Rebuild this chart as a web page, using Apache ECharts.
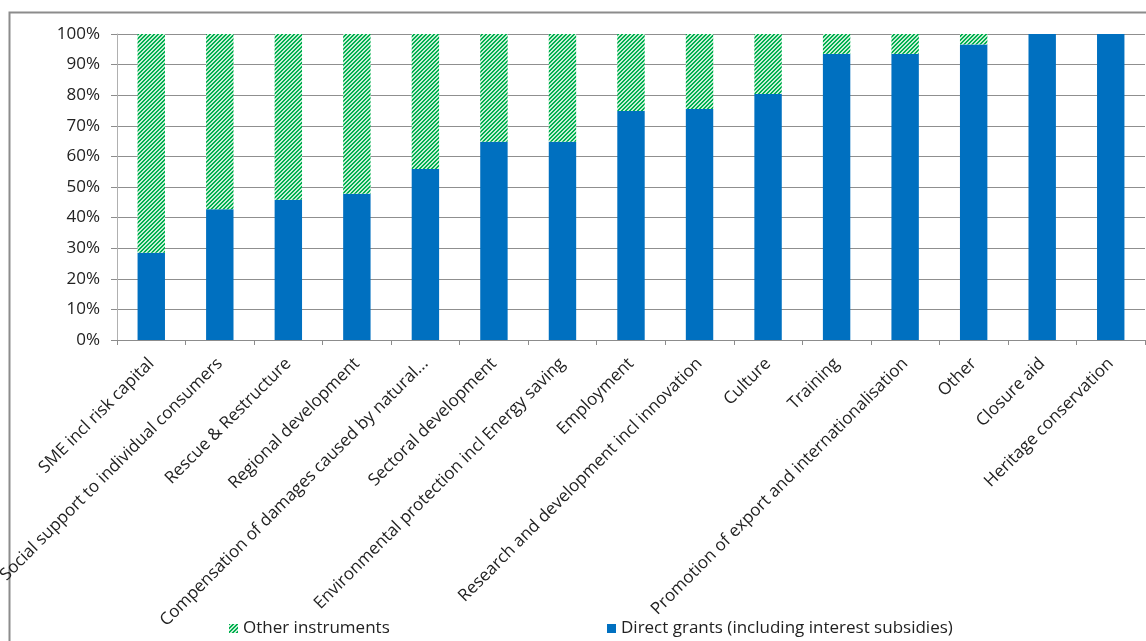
<!DOCTYPE html>
<html><head><meta charset="utf-8">
<script src="https://cdn.jsdelivr.net/npm/echarts@6/dist/echarts.min.js"></script>
<style>html,body{margin:0;padding:0;background:#fff}#c{width:1146px;height:641px}</style>
</head><body><div id="c"></div>
<script>
const categories = ["SME incl risk capital","Social support to individual consumers","Rescue & Restructure","Regional development","Compensation of damages caused by natural...","Sectoral development","Environmental protection incl Energy saving","Employment","Research and development incl innovation","Culture","Training","Promotion of export and internationalisation","Other","Closure aid","Heritage conservation"];
const directGrants = [28.5, 42.7, 45.8, 47.8, 55.9, 64.8, 64.8, 74.8, 75.5, 80.4, 93.5, 93.5, 96.6, 100, 100];
const otherInstruments = [71.5, 57.3, 54.2, 52.2, 44.1, 35.2, 35.2, 25.2, 24.5, 19.6, 6.5, 6.5, 3.4, 0, 0];
const yTicks = [0,10,20,30,40,50,60,70,80,90,100];

// hatch pattern
const pc = document.createElement('canvas');
pc.width = 4; pc.height = 4;
const g = pc.getContext('2d');
g.fillStyle = '#c8eed4'; g.fillRect(0,0,4,4);
g.fillStyle = '#00b050';
for (let i = 0; i < 4; i++) { g.fillRect((3 - i + 4) % 4, i, 1, 1); g.fillRect((4 - i + 4) % 4, i, 1, 1); }
const hatch = {image: pc, repeat: 'repeat'};

const font = 'Open Sans';
const chart = echarts.init(document.getElementById('c'), null, {renderer: 'canvas'});
chart.setOption({
  animation: false,
  textStyle: {fontFamily: font},
  graphic: [{type: 'rect', shape: {x: 9.5, y: 12.5, width: 1200, height: 700}, style: {fill: 'none', stroke: '#8c8c8c', lineWidth: 2}, silent: true, z: 0}],
  grid: {left: 117, right: 1, top: 34, bottom: 301, containLabel: false, outerBoundsMode: 'none'},
  legend: [
    {data: [{name: 'Other instruments'}], left: 224, top: 615, itemWidth: 9, itemHeight: 9, itemGap: 6, icon: 'rect',
     textStyle: {fontFamily: font, fontSize: 17, color: '#222'}},
    {data: [{name: 'Direct grants (including interest subsidies)'}], left: 602, top: 615, itemWidth: 9, itemHeight: 9, icon: 'rect',
     textStyle: {fontFamily: font, fontSize: 17, color: '#222'}}
  ],
  xAxis: {
    type: 'category', data: categories, boundaryGap: true,
    axisLine: {lineStyle: {color: '#8c8c8c', width: 1}},
    axisTick: {show: true, alignWithLabel: false, length: 5, lineStyle: {color: '#8c8c8c'}},
    axisLabel: {rotate: 45, interval: 0, fontSize: 17, color: '#222', margin: 21, fontFamily: font}
  },
  yAxis: {
    type: 'value', min: 0, max: 100, interval: 10,
    axisLine: {show: true, lineStyle: {color: '#b0b0b0'}},
    axisTick: {show: true, length: 6, lineStyle: {color: '#8c8c8c'}},
    splitLine: {lineStyle: {color: '#8f8f8f', width: 1}},
    axisLabel: {fontSize: 17, color: '#222', margin: 17, fontFamily: font,
      formatter: v => yTicks.includes(v) ? v + '%' : ''}
  },
  series: [
    {name: 'Direct grants (including interest subsidies)', type: 'bar', stack: 's', data: directGrants, barWidth: '40%',
     itemStyle: {color: '#0070c0'}},
    {name: 'Other instruments', type: 'bar', stack: 's', data: otherInstruments, barWidth: '40%',
     itemStyle: {color: hatch}}
  ]
});
</script></body></html>
